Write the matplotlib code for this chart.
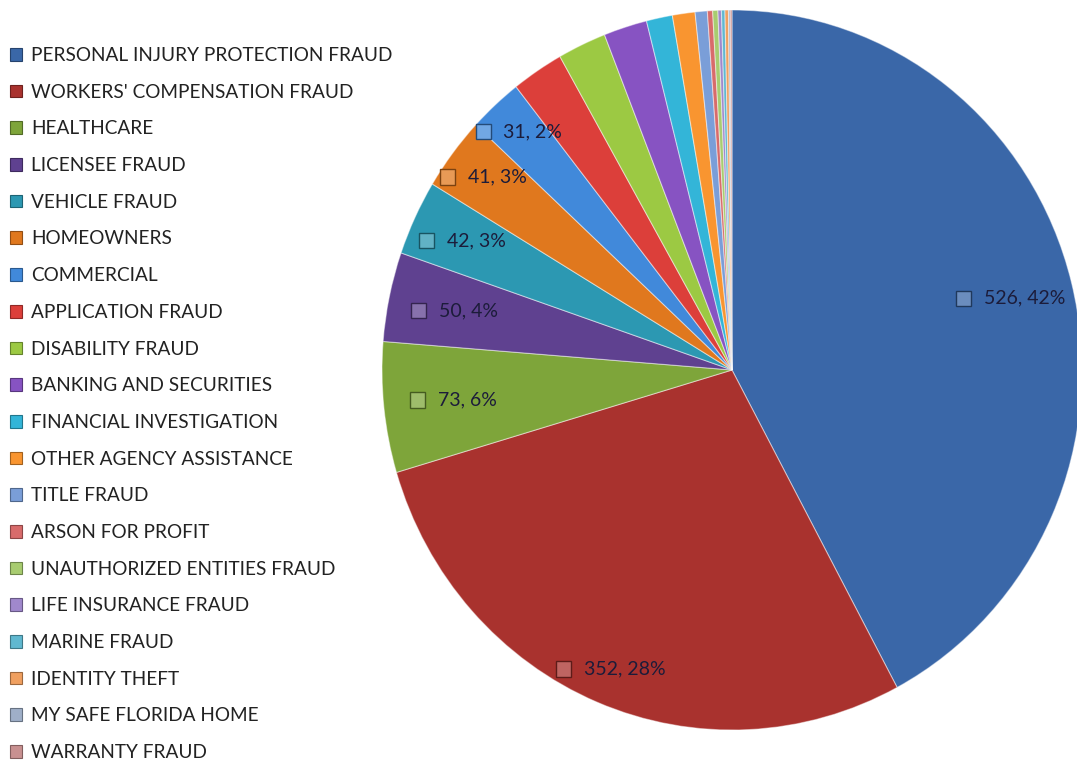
import matplotlib
matplotlib.use("Agg")
import matplotlib.pyplot as plt
import matplotlib.colors as mcolors
import numpy as np
from matplotlib.offsetbox import HPacker, TextArea, DrawingArea, AnnotationBbox
from matplotlib.patches import Rectangle

categories = [
    "PERSONAL INJURY PROTECTION FRAUD", "WORKERS' COMPENSATION FRAUD", "HEALTHCARE",
    "LICENSEE FRAUD", "VEHICLE FRAUD", "HOMEOWNERS", "COMMERCIAL", "APPLICATION FRAUD",
    "DISABILITY FRAUD", "BANKING AND SECURITIES", "FINANCIAL INVESTIGATION",
    "OTHER AGENCY ASSISTANCE", "TITLE FRAUD", "ARSON FOR PROFIT",
    "UNAUTHORIZED ENTITIES FRAUD", "LIFE INSURANCE FRAUD", "MARINE FRAUD",
    "IDENTITY THEFT", "MY SAFE FLORIDA HOME", "WARRANTY FRAUD",
]
values = [526, 352, 73, 50, 42, 41, 31, 30, 28, 25, 15, 13, 7, 3, 3, 2, 2, 2, 1, 1]
labeled_count = 7

colors = [
    "#3A67A8", "#A9322E", "#7EA53A", "#5F4190", "#2C98B2", "#E0781E",
    "#4189DA", "#DC3F3A", "#9CC943", "#8753C2", "#33B5D8", "#F99530",
    "#7A9ED8", "#D86B6B", "#A8CC70", "#A088CC", "#60B8D0", "#F0A060",
    "#9FAFC8", "#C89090",
]
label_radius = [0.82, 0.90, 0.80, 0.81, 0.85, 0.89, 0.90]


def mix(c, other, t):
    a = np.array(mcolors.to_rgb(c))
    b = np.array(mcolors.to_rgb(other))
    return tuple(a * (1 - t) + b * t)


plt.rcParams['font.family'] = ['Lato', 'DejaVu Sans']

W, H = 1077, 765
fig = plt.figure(figsize=(W / 100, H / 100), dpi=100)
fig.patch.set_facecolor("white")

cx, cy, rx, ry = 732, 370, 350, 360
ax = fig.add_axes([(cx - rx) / W, (H - cy - ry) / H, 2 * rx / W, 2 * ry / H])
wedges, _ = ax.pie(values, colors=colors, startangle=90, counterclock=False,
                   radius=1.0,
                   wedgeprops=dict(edgecolor=(1, 1, 1, 0.45), linewidth=0.8))
ax.set_aspect('auto')
ax.set_xlim(-1, 1)
ax.set_ylim(-1, 1)
ax.axis('off')

total = sum(values)
for i in range(labeled_count):
    w = wedges[i]
    mid = np.deg2rad((w.theta1 + w.theta2) / 2)
    r = label_radius[i]
    x, y = r * np.cos(mid), r * np.sin(mid)
    pct = round(100 * values[i] / total)
    da = DrawingArea(11, 11, 0, 0)
    da.add_artist(Rectangle((0, 0), 11, 11, facecolor=mix(colors[i], "white", 0.25),
                            edgecolor=mix(colors[i], "black", 0.45), linewidth=1.0))
    ta = TextArea(f"{values[i]}, {pct}%",
                  textprops=dict(fontsize=14, color="#1c1c3a"))
    box = HPacker(children=[da, ta], align="center", pad=0, sep=9)
    ab = AnnotationBbox(box, (x, y), frameon=False, box_alignment=(0.5, 0.5),
                        pad=0)
    ax.add_artist(ab)

leg = fig.legend(wedges, categories, loc="upper left",
                 bbox_to_anchor=(10 / W, 1 - 47 / H), frameon=False,
                 fontsize=13.7, handlelength=0.65, handleheight=0.65,
                 handletextpad=0.45, labelspacing=1.035, borderpad=0,
                 borderaxespad=0)
for t in leg.get_texts():
    t.set_color("#222222")
for h in leg.legend_handles:
    h.set_edgecolor(mix(h.get_facecolor()[:3], "black", 0.35))
    h.set_linewidth(0.8)

fig.savefig("out.png", dpi=100, facecolor="white")
